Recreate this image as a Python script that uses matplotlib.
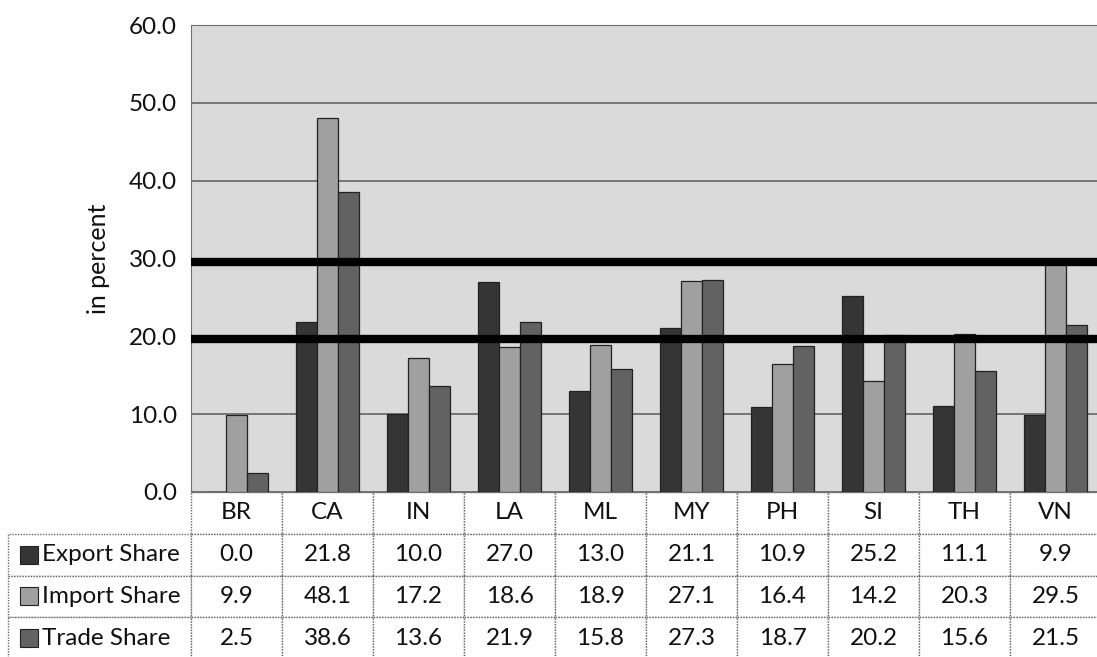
import matplotlib.pyplot as plt
from matplotlib.patches import Rectangle

plt.rcParams['font.family'] = ['Lato', 'DejaVu Sans']

countries = ['BR', 'CA', 'IN', 'LA', 'ML', 'MY', 'PH', 'SI', 'TH', 'VN']
export_share = [0.0, 21.8, 10.0, 27.0, 13.0, 21.1, 10.9, 25.2, 11.1, 9.9]
import_share = [9.9, 48.1, 17.2, 18.6, 18.9, 27.1, 16.4, 14.2, 20.3, 29.5]
trade_share = [2.5, 38.6, 13.6, 21.9, 15.8, 27.3, 18.7, 20.2, 15.6, 21.5]
series_names = ['Export Share', 'Import Share', 'Trade Share']
bands = [19.7, 29.6]

colors = ['#353535', '#a0a0a0', '#626262']
series = [export_share, import_share, trade_share]
txt = '#111111'

fig = plt.figure(figsize=(10.97, 6.57), dpi=100)
ax = fig.add_axes([191 / 1097, 1 - 492 / 657, 910 / 1097, 467 / 657])
ax.set_facecolor('#dadada')

w = 0.23
x = list(range(len(countries)))
for k, (vals, col) in enumerate(zip(series, colors)):
    xs = [i + (k - 1) * w for i in x]
    ax.bar(xs, vals, width=w, color=col, edgecolor='#222222', linewidth=0.9, zorder=3)

ax.set_xlim(-0.5, 9.5)
ax.set_ylim(0, 60)
ax.set_yticks(range(0, 61, 10))
ax.set_yticklabels(['%.1f' % v for v in range(0, 61, 10)], fontsize=17.5, color=txt)
ax.tick_params(axis='y', length=0, pad=10)
ax.set_xticks([])
ax.yaxis.grid(True, color='#5a5a5a', linewidth=1.1, zorder=1)
for sp in ax.spines.values():
    sp.set_color('#707070')
    sp.set_linestyle((0, (1, 1)))
ax.set_ylabel('in percent', fontsize=18, color=txt, labelpad=14)

for b in bands:
    ax.axhline(b, color='black', linewidth=6, zorder=5)

# data table under the plot
tb_left = (8 - 191) / 910
tb_h = 167 / 467
cell_text = [[''] + ['%.1f' % v for v in vals] for vals in series]
tbl = ax.table(cellText=cell_text, colLabels=[''] + countries,
               colWidths=[-tb_left] + [0.1] * 10, cellLoc='center',
               bbox=[tb_left, -tb_h, 1 - tb_left, tb_h])
tbl.auto_set_font_size(False)
tbl.set_fontsize(17.5)
for (r, c), cell in tbl.get_celld().items():
    cell.set_edgecolor('#6a6a6a')
    cell.set_linewidth(1)
    cell.set_linestyle((0, (1, 1)))
    cell.get_text().set_color(txt)
tbl[0, 0].visible_edges = ''

row_h = tb_h / 4
sq_w = 18 / 910
sq_h = 18 / 467
for k, name in enumerate(series_names):
    yc = -row_h * (k + 1.5)
    ax.add_patch(Rectangle(((20 - 191) / 910, yc - sq_h / 2), sq_w, sq_h,
                           facecolor=colors[k], edgecolor='#222222', linewidth=0.8,
                           transform=ax.transAxes, clip_on=False))
    ax.text((42 - 191) / 910, yc, name, transform=ax.transAxes, fontsize=17.5,
            ha='left', va='center', color=txt)

fig.savefig('out.png', dpi=100)
